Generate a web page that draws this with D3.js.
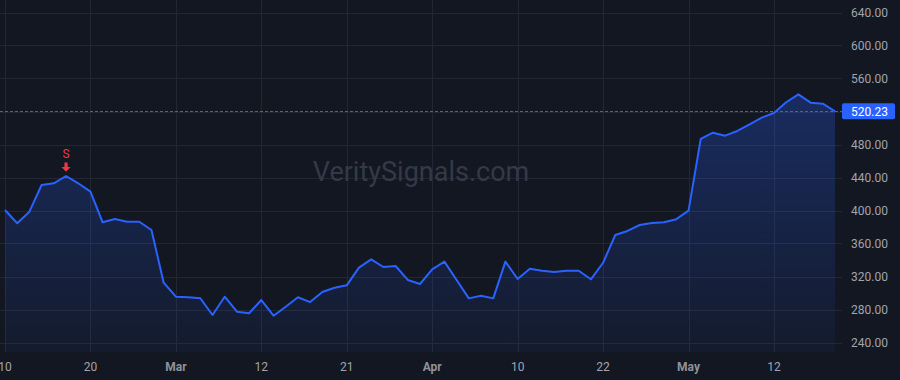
<!DOCTYPE html>
<html><head><meta charset="utf-8">
<script src="https://cdn.jsdelivr.net/npm/d3@7"></script>
<style>html,body{margin:0;padding:0;background:#131722;}svg{display:block;}</style>
</head><body>
<svg id="c" width="900" height="380"></svg>
<script>
// ---- data ----
const dates = [
 "2025-02-10","2025-02-11","2025-02-12","2025-02-13","2025-02-14","2025-02-18","2025-02-19","2025-02-20","2025-02-21","2025-02-24","2025-02-25","2025-02-26","2025-02-27","2025-02-28",
 "2025-03-03","2025-03-04","2025-03-05","2025-03-06","2025-03-07","2025-03-10","2025-03-11","2025-03-12","2025-03-13","2025-03-14","2025-03-17","2025-03-18","2025-03-19","2025-03-20","2025-03-21","2025-03-24","2025-03-25","2025-03-26","2025-03-27","2025-03-28","2025-03-31",
 "2025-04-01","2025-04-02","2025-04-03","2025-04-04","2025-04-07","2025-04-08","2025-04-09","2025-04-10","2025-04-11","2025-04-14","2025-04-15","2025-04-16","2025-04-17","2025-04-21","2025-04-22","2025-04-23","2025-04-24","2025-04-25","2025-04-28","2025-04-29","2025-04-30",
 "2025-05-01","2025-05-02","2025-05-05","2025-05-06","2025-05-07","2025-05-08","2025-05-09","2025-05-12","2025-05-13","2025-05-14","2025-05-15","2025-05-16","2025-05-19"
];
const closes = [
 400.6,384.5,398.6,430.9,433.0,441.8,433.0,422.8,385.7,389.7,386.4,386.4,376.4,312.5,
 295.5,294.8,293.6,273.3,295.5,277.3,275.4,291.5,272.5,283.4,294.8,289.0,301.2,306.4,309.3,330.7,340.8,331.5,332.7,315.8,310.9,
 328.7,338.0,315.8,293.5,296.7,293.5,338.0,317.0,329.5,327.0,325.5,327.0,327.0,316.6,336.7,370.3,375.2,382.4,384.8,385.7,389.5,
 399.8,486.7,494.3,490.7,496.4,504.5,512.5,518.2,531.2,540.8,530.7,529.5,520.23
];
const xTickDates  = ["2025-02-10","2025-02-20","2025-03-03","2025-03-12","2025-03-21","2025-04-01","2025-04-10","2025-04-22","2025-05-01","2025-05-12"];
const xTickLabels = ["10","20","Mar","12","21","Apr","10","22","May","12"];
const xTickBold   = [false,false,true,false,false,true,false,false,true,false];
const yTicks = [240,280,320,360,400,440,480,520,560,600,640];
const signalDate = "2025-02-18";
const signalLabel = "S";
const lastPrice = 520.23;
const watermark = "VeritySignals.com";

// ---- layout ----
const W = 900, H = 380, plotR = 842, plotB = 352;
const FONT = "Roboto, 'Liberation Sans', Arial, sans-serif";
const svg = d3.select("#c");
svg.append("rect").attr("width", W).attr("height", H).attr("fill", "#131722");

const x = d3.scaleLinear().domain([0, dates.length - 1]).range([5, 835]);
const y = d3.scaleLinear().domain([240, 640]).range([342.5, 12.5]);
const idx = d => dates.indexOf(d);

// grid
const grid = svg.append("g").attr("stroke", "#232734").attr("stroke-width", 1);
yTicks.forEach(v => grid.append("line").attr("x1", 0).attr("x2", plotR)
  .attr("y1", Math.round(y(v)) + 0.5).attr("y2", Math.round(y(v)) + 0.5));
xTickDates.forEach(d => grid.append("line").attr("y1", 0).attr("y2", plotB)
  .attr("x1", Math.round(x(idx(d))) + 0.5).attr("x2", Math.round(x(idx(d))) + 0.5));

// watermark
svg.append("text").attr("x", 421).attr("y", 181).attr("text-anchor", "middle")
  .attr("font-family", FONT).attr("font-size", 27).attr("fill", "#353946")
  .text(watermark);

// area gradient
const topY = y(d3.max(closes));
const defs = svg.append("defs");
const grad = defs.append("linearGradient").attr("id", "ag").attr("gradientUnits", "userSpaceOnUse")
  .attr("x1", 0).attr("x2", 0).attr("y1", topY).attr("y2", plotB);
grad.append("stop").attr("offset", 0).attr("stop-color", "#2962ff").attr("stop-opacity", 0.28);
grad.append("stop").attr("offset", 1).attr("stop-color", "#2962ff").attr("stop-opacity", 0.05);

const area = d3.area().x((d, i) => x(i)).y0(plotB).y1(d => y(d));
svg.append("path").datum(closes).attr("d", area).attr("fill", "url(#ag)");

// last price dashed line
svg.append("line").attr("x1", 0).attr("x2", plotR)
  .attr("y1", Math.round(y(lastPrice)) + 0.5).attr("y2", Math.round(y(lastPrice)) + 0.5)
  .attr("stroke", "#2962ff").attr("stroke-width", 1).attr("stroke-dasharray", "3,2");

const line = d3.line().x((d, i) => x(i)).y(d => y(d));
svg.append("path").datum(closes).attr("d", line).attr("fill", "none")
  .attr("stroke", "#2962ff").attr("stroke-width", 2).attr("stroke-linejoin", "round");

// signal marker
const si = idx(signalDate);
const sx = x(si), sy = y(closes[si]);
const mk = svg.append("g").attr("fill", "#f23645");
mk.append("rect").attr("x", sx - 1.6).attr("y", sy - 13.5).attr("width", 3.2).attr("height", 5);
mk.append("path").attr("d", `M${sx - 4.5},${sy - 9} L${sx + 4.5},${sy - 9} L${sx},${sy - 4.3} Z`);
mk.append("text").attr("x", sx).attr("y", sy - 18.5).attr("text-anchor", "middle")
  .attr("font-family", FONT).attr("font-size", 12).text(signalLabel);

// right axis labels
const ya = svg.append("g").attr("font-family", FONT).attr("font-size", 12).attr("fill", "#a1a4ad");
yTicks.forEach(v => {
  if (Math.abs(y(v) - y(lastPrice)) < 10) return;
  ya.append("text").attr("x", 888).attr("y", y(v)).attr("dy", "0.35em")
    .attr("text-anchor", "end").text(v.toFixed(2));
});
svg.append("rect").attr("x", 842).attr("y", y(lastPrice) - 8).attr("width", 53).attr("height", 16)
  .attr("rx", 2).attr("fill", "#2962ff");
svg.append("text").attr("x", 888).attr("y", y(lastPrice)).attr("dy", "0.35em").attr("text-anchor", "end")
  .attr("font-family", FONT).attr("font-size", 12).attr("fill", "#ffffff").text(lastPrice.toFixed(2));

// bottom axis labels
const xa = svg.append("g").attr("font-family", FONT).attr("font-size", 12);
xTickDates.forEach((d, k) => {
  xa.append("text").attr("x", x(idx(d))).attr("y", 367).attr("dy", "0.35em")
    .attr("text-anchor", "middle").attr("font-weight", xTickBold[k] ? "bold" : "normal")
    .attr("fill", xTickBold[k] ? "#8f929b" : "#a1a4ad").text(xTickLabels[k]);
});
</script>
</body></html>
